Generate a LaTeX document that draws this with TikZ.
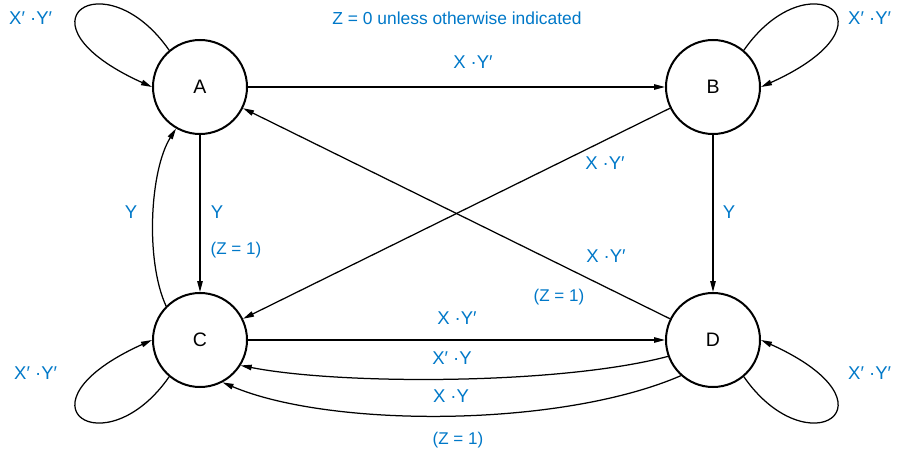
\documentclass[tikz,border=0pt]{standalone}
\usepackage{fontspec}
\setmainfont{Liberation Sans}
\usetikzlibrary{arrows.meta}
\definecolor{lblue}{RGB}{0,120,200}
\begin{document}
\begin{tikzpicture}[x=1pt,y=-1pt,
  state/.style={circle, draw, line width=2pt, minimum size=94pt, inner sep=0pt, font=\fontsize{19.5}{21}\selectfont},
  edge/.style={line width=1.25pt, -{Triangle[length=11pt,width=5.5pt]}},
  lbl/.style={text=lblue, font=\fontsize{18.5}{20}\selectfont, inner sep=0pt},
  zlbl/.style={text=lblue, font=\fontsize{17}{19}\selectfont, inner sep=0pt}]
\useasboundingbox (0,0) rectangle (897,452);
\node[state] (A) at (200,87) {A};
\node[state] (B) at (713,87) {B};
\node[state] (C) at (200,340) {C};
\node[state] (D) at (713,340) {D};
% loops
\draw[edge] (A.130) .. controls (105,-42) and (8,22) .. (A.180);
\draw[edge] (B.50) .. controls (808,-42) and (905,22) .. (B.0);
\draw[edge] (C.230) .. controls (105,469) and (8,405) .. (C.180);
\draw[edge] (D.310) .. controls (808,469) and (905,405) .. (D.0);
% straight edges
\draw[edge] (A) -- (B);
\draw[edge] (A) -- (C);
\draw[edge] (B) -- (D);
\draw[edge] (B) -- (C);
\draw[edge] (D) -- (A);
\draw[edge] (C) -- (D);
% curved edges
\draw[edge] (C.135) .. controls (145,260) and (150,170) .. (A.240);
\draw[edge] (D.200) .. controls (560,385) and (340,385) .. (C.328);
\draw[edge] (D.228) .. controls (560,428) and (330,428) .. (C.298);
% labels
\node[lbl, anchor=west] (lA) at (9,18) {X′ ·Y′};
\node[lbl, anchor=west] (lB) at (848,18) {X′ ·Y′};
\node[lbl, anchor=west] (lC) at (14,373) {X′ ·Y′};
\node[lbl, anchor=west] (lD) at (848,373) {X′ ·Y′};
\node[lbl, font=\fontsize{17.4}{19}\selectfont] (note) at (457,18) {Z = 0 unless otherwise indicated};
\node[lbl] (lAB) at (473,62) {X ·Y′};
\node[lbl] (lBC) at (605,163) {X ·Y′};
\node[lbl] (lBD) at (729,212) {Y};
\node[lbl] (lDA) at (606,256) {X ·Y′};
\node[zlbl] (zDA) at (559,297) {(Z = 1)};
\node[lbl] (lCA) at (131,212) {Y};
\node[lbl] (lAC) at (217,212) {Y};
\node[zlbl] (zAC) at (236,250) {(Z = 1)};
\node[lbl] (lCD) at (457,318) {X ·Y′};
\node[lbl] (lDC1) at (452,358) {X′ ·Y};
\node[lbl] (lDC2) at (451,396) {X ·Y};
\node[zlbl] (zDC2) at (458,440) {(Z = 1)};
\end{tikzpicture}
\end{document}
